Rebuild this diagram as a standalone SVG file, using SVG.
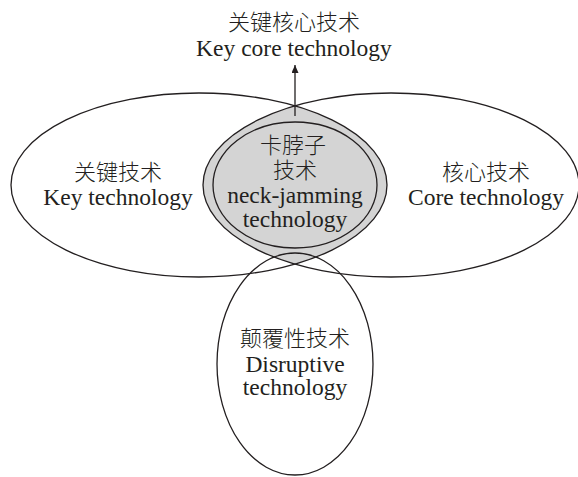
<svg xmlns="http://www.w3.org/2000/svg" width="578" height="477" viewBox="0 0 578 477">
  <style>
    .outline { fill: none; stroke: #231f20; stroke-width: 1.3; }
    .zh { font-family: "Noto Sans CJK SC", "Noto Sans CJK TC", sans-serif; font-size: 22px; fill: #231f20; text-anchor: middle; font-weight: 300; }
    .en { font-family: "Liberation Serif", "Times New Roman", serif; font-size: 23.5px; fill: #231f20; text-anchor: middle; }
  </style>
  <defs>
    <clipPath id="clip-left">
      <ellipse cx="199" cy="185" rx="188" ry="92"/>
    </clipPath>
    <!-- filled triangular arrowhead, pointing along the line direction -->
    <marker id="arrowhead" markerWidth="8" markerHeight="7" refX="8" refY="3.5" orient="auto" markerUnits="userSpaceOnUse" viewBox="0 0 8 7">
      <path d="M0,0 L8,3.5 L0,7 Z" fill="#231f20"/>
    </marker>
  </defs>

  <!-- shaded overlap of key and core technology -->
  <g id="overlap">
    <ellipse cx="391" cy="185" rx="188" ry="92" fill="#d4d4d4" clip-path="url(#clip-left)"/>
  </g>

  <g id="key-technology">
    <ellipse class="outline" cx="199" cy="185" rx="188" ry="92"/>
    <text class="zh" x="118" y="180">关键技术</text>
    <text class="en" x="118" y="205">Key technology</text>
  </g>

  <g id="core-technology">
    <ellipse class="outline" cx="391" cy="185" rx="188" ry="92"/>
    <text class="zh" x="486" y="180">核心技术</text>
    <text class="en" x="486" y="205">Core technology</text>
  </g>

  <g id="neck-jamming-technology">
    <ellipse class="outline" cx="295" cy="185" rx="82" ry="63"/>
    <text class="zh" x="293" y="153">卡脖子</text>
    <text class="zh" x="295" y="178">技术</text>
    <text class="en" x="295" y="203">neck-jamming</text>
    <text class="en" x="295" y="227">technology</text>
  </g>

  <g id="disruptive-technology">
    <ellipse class="outline" cx="295" cy="364" rx="78" ry="111"/>
    <text class="zh" x="295" y="346">颠覆性技术</text>
    <text class="en" x="295" y="372">Disruptive</text>
    <text class="en" x="295" y="395">technology</text>
  </g>

  <g id="key-core-technology">
    <text class="zh" x="294" y="30">关键核心技术</text>
    <text class="en" x="294" y="56">Key core technology</text>
  </g>

  <g id="connectors">
    <line x1="295" y1="116" x2="295" y2="65" stroke="#231f20" stroke-width="1.3" marker-end="url(#arrowhead)"/>
  </g>
</svg>
